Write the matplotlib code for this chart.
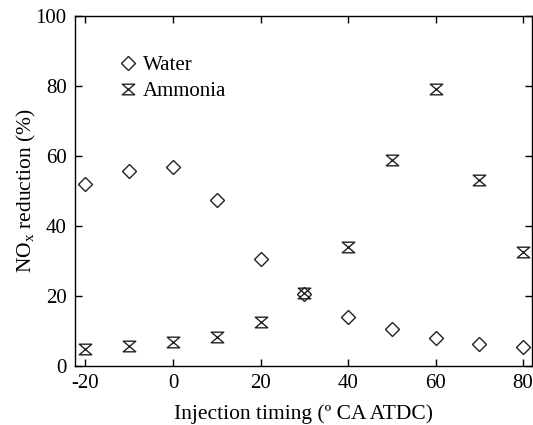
import numpy as np
import matplotlib
matplotlib.use("Agg")
import matplotlib.pyplot as plt
from matplotlib.path import Path

# data
timing = [-20, -10, 0, 10, 20, 30, 40, 50, 60, 70, 80]
water = [52.0, 55.7, 56.7, 47.4, 30.5, 20.5, 14.0, 10.4, 8.0, 6.3, 5.4]
ammonia = [4.7, 5.7, 6.7, 8.3, 12.5, 20.9, 33.9, 58.9, 79.1, 53.1, 32.6]

plt.rcParams['font.family'] = ['Liberation Serif']
plt.rcParams['mathtext.fontset'] = 'custom'
plt.rcParams['mathtext.rm'] = 'Liberation Serif'
plt.rcParams['mathtext.it'] = 'Liberation Serif:italic'
plt.rcParams['axes.unicode_minus'] = False

# hourglass marker, a bit wider than tall
hourglass = Path([(-1, 0.85), (1, 0.85), (-1, -0.85), (1, -0.85), (-1, 0.85)],
                 [Path.MOVETO, Path.LINETO, Path.LINETO, Path.LINETO, Path.CLOSEPOLY])

fig = plt.figure(figsize=(5.33, 4.25), dpi=100)
ax = fig.add_axes([0.1407, 0.1395, 0.857, 0.823])

ax.plot(timing, water, ls='none', marker='D', ms=7.5, mfc='none', mec='#222222',
        mew=1.0, label='Water')
ax.plot(timing, ammonia, ls='none', marker=hourglass, ms=9, mfc='none', mec='#222222',
        mew=1.0, label='Ammonia')

ax.set_xlim(-22.4, 82)
ax.set_ylim(0, 100)
ax.set_xticks([-20, 0, 20, 40, 60, 80])
ax.set_yticks([0, 20, 40, 60, 80, 100])
ax.tick_params(direction='in', length=5, width=1, top=True, right=True,
               labelsize=15, pad=6)
for s in ax.spines.values():
    s.set_linewidth(1)

ax.set_xlabel('Injection timing (º CA ATDC)', fontsize=15.5, labelpad=8)
ax.set_ylabel('NO$_\\mathrm{x}$ reduction (%)', fontsize=15.5, labelpad=-2)

ax.legend(loc='upper left', bbox_to_anchor=(0.08, 0.91), frameon=False,
          fontsize=15, handlelength=0.8, handletextpad=0.3, labelspacing=0.3,
          borderaxespad=0)

plt.savefig('out.png', dpi=100)
